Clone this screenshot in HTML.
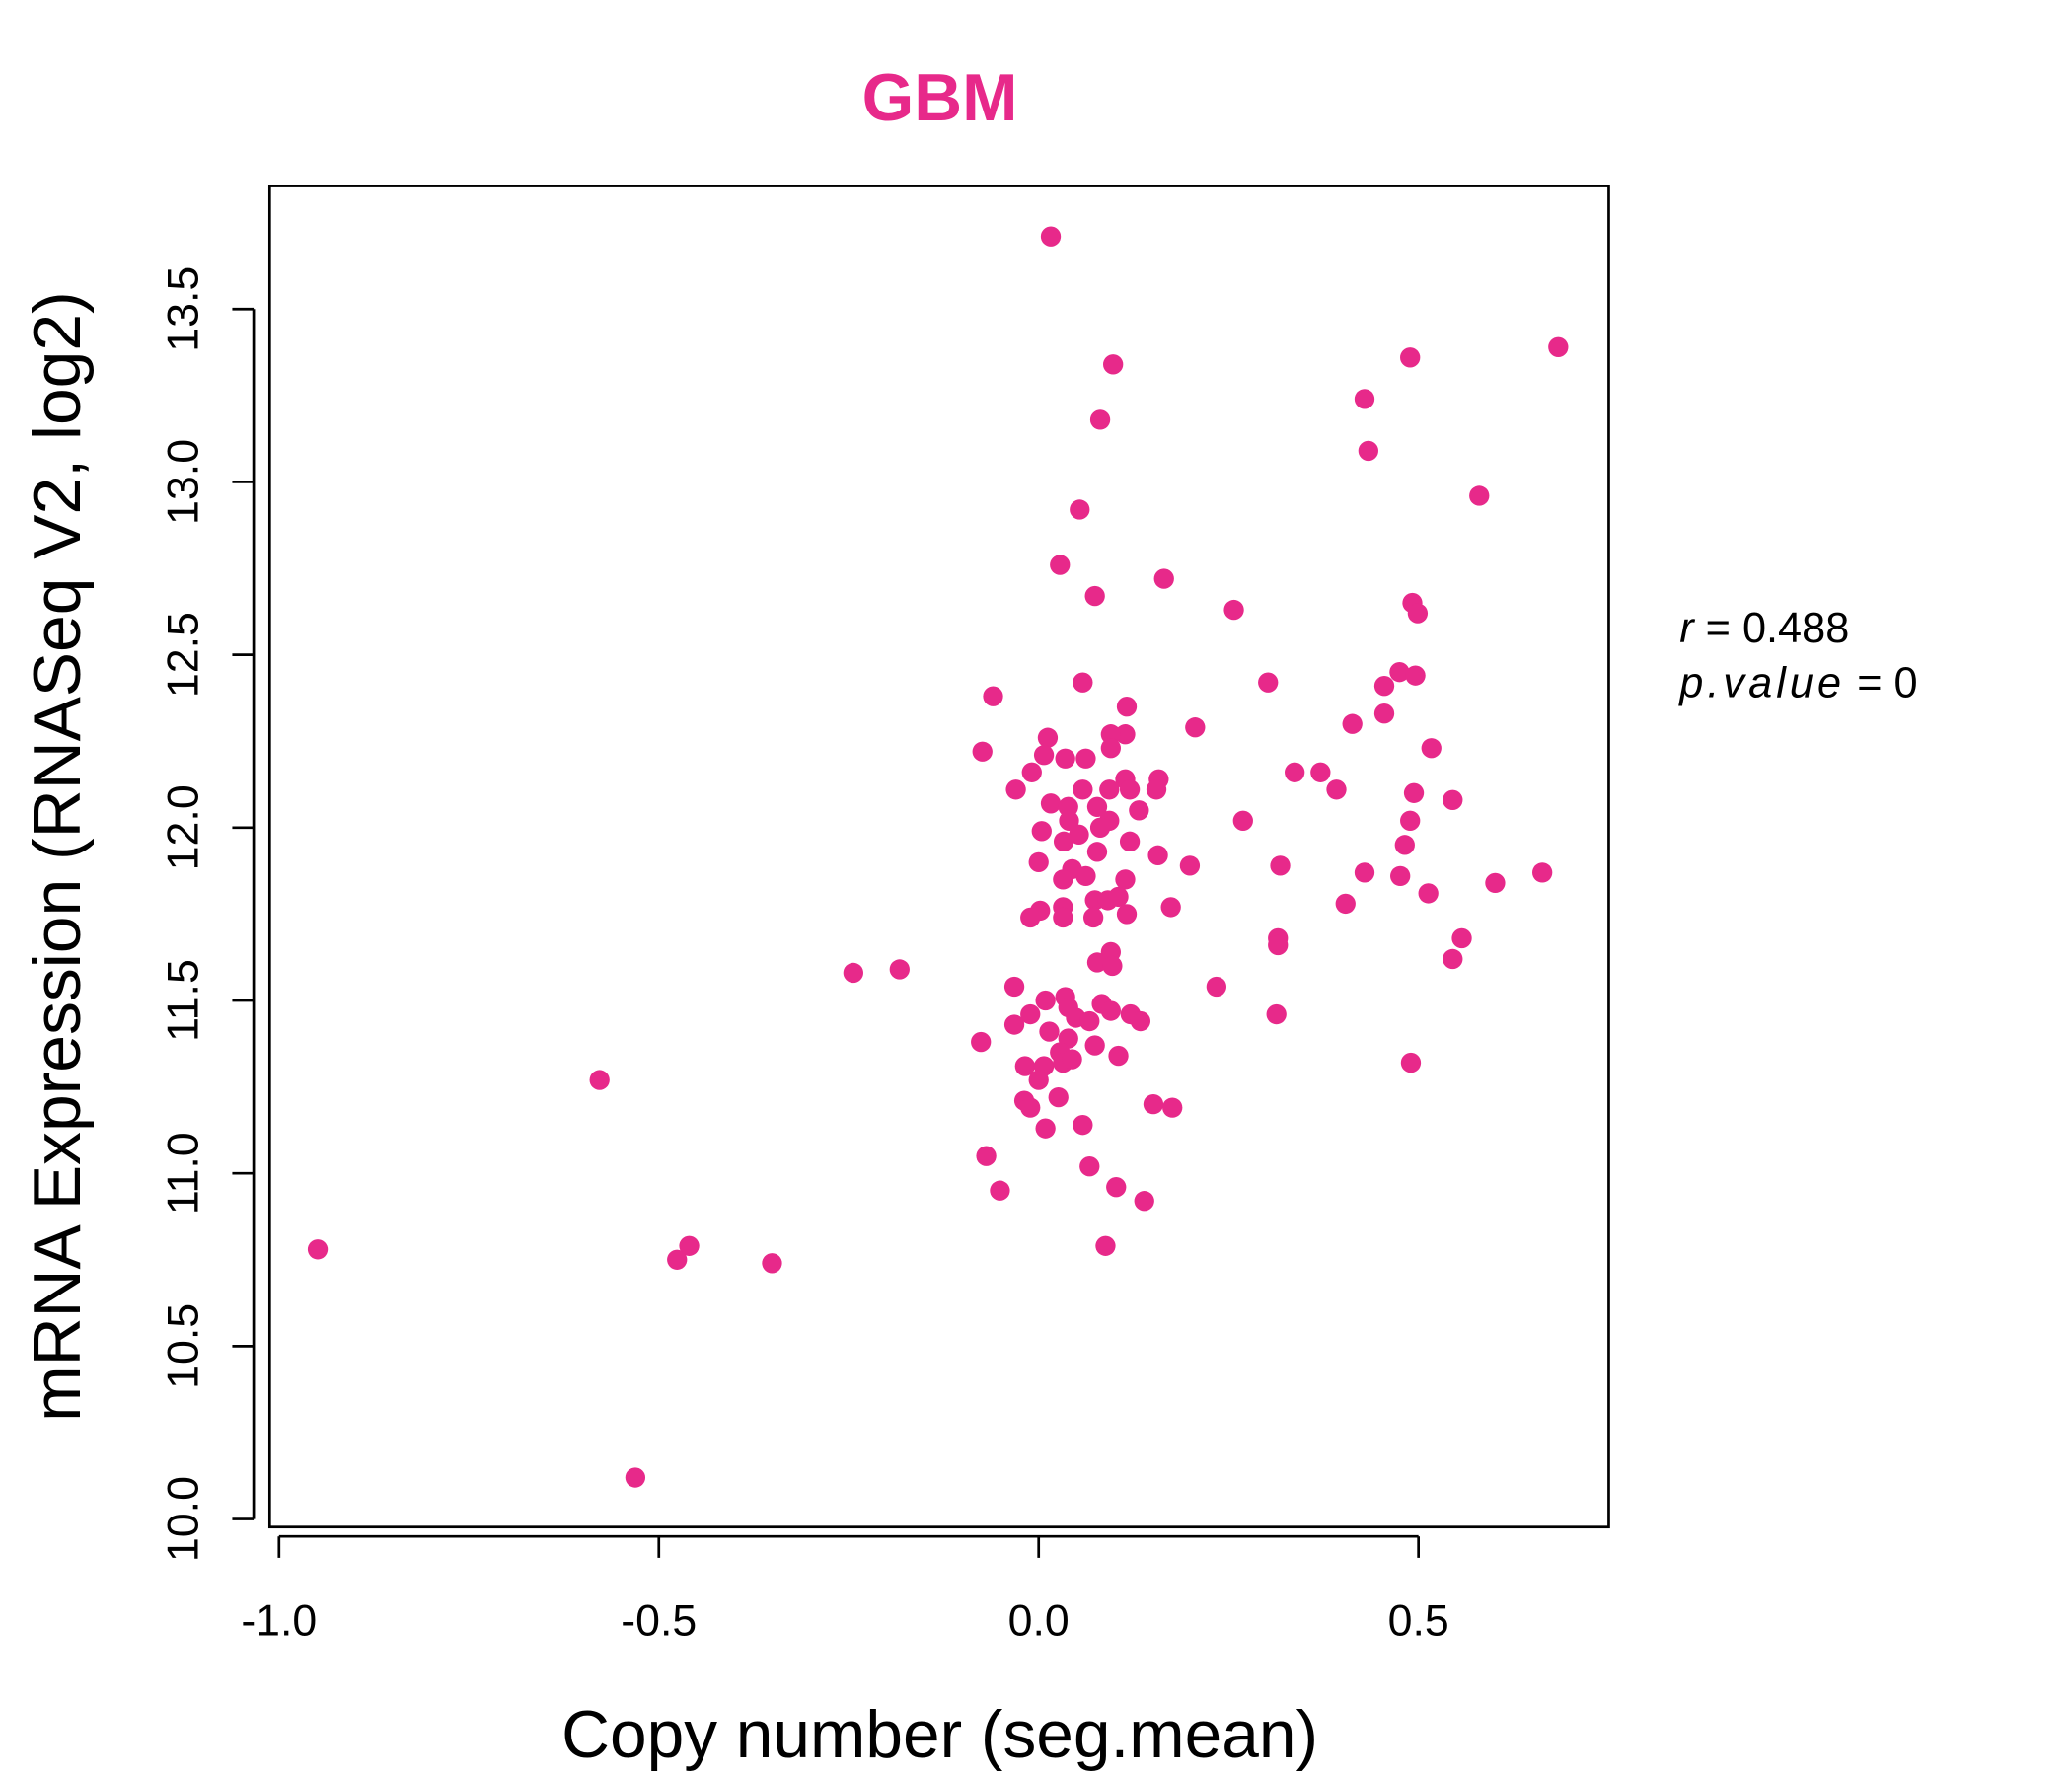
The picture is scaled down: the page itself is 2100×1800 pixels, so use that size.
<!DOCTYPE html>
<html><head><meta charset="utf-8"><style>
html,body{margin:0;padding:0;background:#fff;}
svg{display:block;font-family:"Liberation Sans",sans-serif;}
</style></head><body>
<svg id="chart" width="2100" height="1800" viewBox="0 0 1552 1327" preserveAspectRatio="none" xmlns="http://www.w3.org/2000/svg">
<rect width="1552" height="1327" fill="#fff"/>
<text x="704" y="90" text-anchor="middle" font-size="50" font-weight="bold" fill="#e7298a">GBM</text>
<rect x="202" y="139" width="1003" height="1002" fill="none" stroke="#000" stroke-width="2"/>
<g id="xaxis"></g>
<g id="yaxis"></g>
<g id="points"></g>
<text x="704" y="1313" text-anchor="middle" font-size="50">Copy number (seg.mean)</text>
<text transform="translate(60,640) rotate(-90)" text-anchor="middle" font-size="50">mRNA Expression (RNASeq V2, log2)</text>
<text x="1258" y="480" font-size="32"><tspan font-style="italic">r</tspan> = 0.488</text>
<text x="1258" y="521" font-size="32"><tspan font-style="italic" letter-spacing="3">p.value</tspan> = 0</text>
</svg>
<script>
const xTicks=[-1.0,-0.5,0.0,0.5];
const xTickLabels=["-1.0","-0.5","0.0","0.5"];
const yTicks=[10.0,10.5,11.0,11.5,12.0,12.5,13.0,13.5];
const yTickLabels=["10.0","10.5","11.0","11.5","12.0","12.5","13.0","13.5"];
const xVals=[0.016,0.098,0.081,0.054,0.028,0.074,0.165,0.257,0.684,0.429,0.489,0.434,0.580,0.492,0.499,0.475,0.496,0.455,0.455,0.413,0.517,0.302,0.206,0.337,0.371,0.392,0.494,0.545,0.489,0.269,0.482,0.318,0.429,0.476,0.513,0.601,0.663,0.404,0.557,0.545,0.315,0.315,0.313,0.490,0.234,0.199,0.174,0.158,0.155,0.157,0.132,0.116,0.114,0.095,0.095,0.058,-0.060,-0.074,0.012,0.007,0.035,0.062,-0.009,-0.030,0.058,0.016,0.039,0.077,0.114,0.120,0.093,0.093,0.081,0.040,0.004,0.053,0.033,0.120,0.077,0.000,0.044,0.032,0.062,0.114,0.002,-0.011,0.032,0.032,0.074,0.091,0.105,0.072,0.116,0.095,0.077,0.097,-0.244,-0.183,-0.032,0.009,0.035,0.039,0.083,0.095,0.049,0.121,0.134,0.067,-0.011,-0.032,0.014,0.039,-0.076,0.028,0.074,0.105,-0.018,0.007,0.032,0.044,0.000,-0.578,0.026,-0.019,-0.011,0.151,0.176,0.058,0.009,-0.069,0.067,0.102,-0.051,0.139,0.088,-0.949,-0.460,-0.476,-0.351,-0.531];
const yVals=[13.71,13.34,13.18,12.92,12.76,12.67,12.72,12.63,13.39,13.24,13.36,13.09,12.96,12.65,12.62,12.45,12.44,12.41,12.33,12.30,12.23,12.42,12.29,12.16,12.16,12.11,12.10,12.08,12.02,12.02,11.95,11.89,11.87,11.86,11.81,11.84,11.87,11.78,11.68,11.62,11.68,11.66,11.46,11.32,11.54,11.89,11.77,12.14,12.11,11.92,12.05,12.35,12.27,12.27,12.23,12.42,12.38,12.22,12.26,12.21,12.20,12.20,12.16,12.11,12.11,12.07,12.06,12.06,12.14,12.11,12.11,12.02,12.00,12.02,11.99,11.98,11.96,11.96,11.93,11.90,11.88,11.85,11.86,11.85,11.76,11.74,11.77,11.74,11.79,11.79,11.80,11.74,11.75,11.64,11.61,11.60,11.58,11.59,11.54,11.50,11.51,11.48,11.49,11.47,11.45,11.46,11.44,11.44,11.46,11.43,11.41,11.39,11.38,11.35,11.37,11.34,11.31,11.31,11.32,11.33,11.27,11.27,11.22,11.21,11.19,11.20,11.19,11.14,11.13,11.05,11.02,10.96,10.95,10.92,10.79,10.78,10.79,10.75,10.74,10.12];
const NS="http://www.w3.org/2000/svg";
function sx(v){return 778+v*569;}
function sy(v){return 1135-(v-10)*258.3;}
function mk(tag,attrs,parent){const e=document.createElementNS(NS,tag);for(const k in attrs)e.setAttribute(k,attrs[k]);parent.appendChild(e);return e;}
const xa=document.getElementById('xaxis');
mk('line',{x1:sx(xTicks[0]),x2:sx(xTicks[xTicks.length-1]),y1:1148,y2:1148,stroke:'#000','stroke-width':2},xa);
xTicks.forEach((t,i)=>{
  const l=mk('line',{x1:sx(t),x2:sx(t),y1:1148,y2:1164,stroke:'#000','stroke-width':2},xa);
  
  
  const tx=mk('text',{x:sx(t),y:1222,'text-anchor':'middle','font-size':33},xa);
  tx.textContent=xTickLabels[i];
  
  
});
const ya=document.getElementById('yaxis');
mk('line',{x1:190,x2:190,y1:sy(yTicks[0]),y2:sy(yTicks[yTicks.length-1]),stroke:'#000','stroke-width':2},ya);
yTicks.forEach((t,i)=>{
  const l=mk('line',{x1:174,x2:190,y1:sy(t),y2:sy(t),stroke:'#000','stroke-width':2},ya);
  
  
  const tx=mk('text',{transform:`translate(148,${sy(t)}) rotate(-90)`,'text-anchor':'middle','font-size':33},ya);
  tx.textContent=yTickLabels[i];
  
  
});
const pg=document.getElementById('points');
xVals.forEach((x,i)=>{
  const c=mk('circle',{cx:sx(x),cy:sy(yVals[i]),r:7.5,fill:'#e7298a'},pg);
  
  
});
</script>
</body></html>
